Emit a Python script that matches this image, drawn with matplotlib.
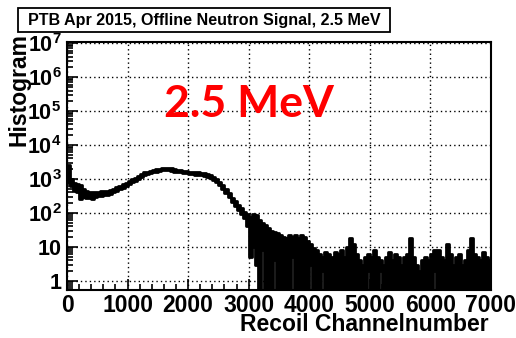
import numpy as np
import matplotlib
matplotlib.use("Agg")
import matplotlib.pyplot as plt
from matplotlib.patches import Rectangle
from matplotlib.ticker import FixedLocator, MultipleLocator, LogLocator, NullFormatter, FixedFormatter

plt.rcParams['font.family'] = ['Liberation Sans']
plt.rcParams['font.weight'] = 'bold'
plt.rcParams['mathtext.fontset'] = 'custom'
plt.rcParams['mathtext.rm'] = 'Liberation Sans:bold'
plt.rcParams['mathtext.it'] = 'Liberation Sans:bold'
plt.rcParams['mathtext.bf'] = 'Liberation Sans:bold'

# Recoil spectrum, 50-channel bins from 0 to 7000.
# Upper and lower envelope of the bin contents within each bin (0.5 = empty bins).
bin_width = 50
counts_hi = [
    2600, 1000, 750, 700, 650, 500, 450, 420, 400, 420,
    420, 430, 440, 450, 470, 520, 580, 640, 700, 780,
    880, 980, 1100, 1250, 1400, 1550, 1650, 1700, 1800, 1900,
    2000, 2100, 2150, 2150, 2050, 1950, 1850, 1800, 1750, 1700,
    1650, 1600, 1580, 1550, 1500, 1450, 1380, 1300, 1150, 1000,
    820, 650, 500, 380, 280, 220, 170, 140, 110, 90,
    75, 90, 85, 60, 50, 45, 35, 30, 28, 25,
    22, 20, 18, 22, 20, 22, 18, 22, 20, 15,
    12, 9, 8, 6, 5, 7, 6, 5, 7, 6,
    8, 5, 10, 18, 12, 6, 4, 3, 5, 6,
    5, 8, 5, 4, 3, 5, 7, 4, 6, 5,
    3, 5, 6, 18, 5, 3, 2, 4, 5, 4,
    6, 8, 8, 5, 4, 12, 6, 3, 5, 6,
    3, 4, 8, 18, 6, 5, 4, 7, 5, 4,
]
counts_lo = [
    800, 600, 450, 420, 250, 300, 280, 270, 260, 300,
    310, 320, 330, 340, 360, 400, 450, 500, 560, 620,
    700, 800, 900, 1000, 1150, 1300, 1400, 1450, 1550, 1600,
    1700, 1800, 1850, 1850, 1750, 1650, 1600, 1550, 1500, 1450,
    1400, 1380, 1350, 1320, 1280, 1230, 1150, 1080, 950, 820,
    650, 520, 390, 290, 210, 160, 120, 95, 70, 40,
    5, 10, 3, 0.5, 8, 0.5, 0.5, 0.5, 4, 0.5,
    0.5, 0.5, 0.5, 0.5, 5, 0.5, 0.5, 0.5, 0.5, 0.5,
    3, 0.5, 0.5, 0.5, 2, 0.5, 0.5, 0.5, 0.5, 0.5,
    0.5, 0.5, 0.5, 0.5, 0.5, 0.5, 0.5, 0.5, 0.5, 2,
    0.5, 0.5, 0.5, 2, 0.5, 0.5, 0.5, 0.5, 0.5, 0.5,
    0.5, 0.5, 0.5, 0.5, 0.5, 0.5, 0.5, 0.5, 0.5, 0.5,
    0.5, 2, 0.5, 0.5, 0.5, 0.5, 0.5, 0.5, 0.5, 0.5,
    0.5, 0.5, 0.5, 0.5, 0.5, 0.5, 0.5, 0.5, 0.5, 0.5,
]
x_ticks = [0, 1000, 2000, 3000, 4000, 5000, 6000, 7000]
y_ticks = [1, 10, 1e2, 1e3, 1e4, 1e5, 1e6, 1e7]
y_tick_labels = ['1', '10', '$10^{2}$', '$10^{3}$', '$10^{4}$', '$10^{5}$', '$10^{6}$', '$10^{7}$']

W, H = 516, 338
fig = plt.figure(figsize=(W / 100, H / 100), dpi=100)
ax = fig.add_axes([67 / W, 1 - 290 / H, (491 - 67) / W, (290 - 42) / H])

edges = np.arange(len(counts_hi) + 1) * bin_width
hi = np.array(counts_hi, dtype=float)
lo = np.array(counts_lo, dtype=float)
hi_s = np.append(hi, hi[-1])
lo_s = np.append(lo, lo[-1])

ax.fill_between(edges, lo_s, hi_s, step='post', color='black', lw=0)
ax.step(edges, hi_s, where='post', color='black', lw=2.0)
ax.step(edges, lo_s, where='post', color='black', lw=2.0)

ax.set_yscale('log')
ax.set_xlim(0, 7000)
ax.set_ylim(0.54, 1.07e7)

ax.xaxis.set_major_locator(FixedLocator(x_ticks))
ax.xaxis.set_minor_locator(MultipleLocator(200))
ax.yaxis.set_major_locator(FixedLocator(y_ticks))
ax.yaxis.set_major_formatter(FixedFormatter(y_tick_labels))
ax.yaxis.set_minor_locator(LogLocator(base=10, subs=np.arange(2, 10), numticks=20))
ax.yaxis.set_minor_formatter(NullFormatter())

ax.tick_params(axis='both', which='both', direction='in', top=False, right=False)
ax.tick_params(axis='x', which='major', length=8, width=1.2, labelsize=16.5, pad=3)
ax.tick_params(axis='x', which='minor', length=4, width=1.2)
ax.tick_params(axis='y', which='major', length=8, width=1.2, labelsize=15.5, pad=4)
ax.tick_params(axis='y', which='minor', length=4, width=1.2)
for lab in ax.get_xticklabels() + ax.get_yticklabels():
    lab.set_fontweight('bold')

ax.grid(True, which='major', color='black', linestyle=(0, (1, 2.2)), lw=1.0)
for sp in ax.spines.values():
    sp.set_linewidth(1.5)

# axis titles, placed at the axis ends
fig.text(489 / W, 1 - 331 / H, 'Recoil Channelnumber', ha='right', va='baseline',
         fontsize=16.5, fontweight='bold')
fig.text(31 / W, 1 - 33 / H, 'Histogram', ha='right', va='top', rotation=90,
         fontsize=16.5, fontweight='bold', zorder=0)

# title box
fig.patches.append(Rectangle((18 / W, 1 - 32 / H), (390 - 18) / W, 24 / H,
                             transform=fig.transFigure, fc='white', ec='black', lw=1.3))
fig.text(204 / W, 1 - 20.5 / H, 'PTB Apr 2015, Offline Neutron Signal, 2.5 MeV',
         ha='center', va='center', fontsize=11.6, fontweight='bold')

# energy annotation
ax.text(3010, 6.6e4, '2.5 MeV', ha='center', va='baseline', color='#ff0000',
        fontsize=32, fontweight='bold', family=['Lato', 'DejaVu Sans'])

fig.savefig('out.png', dpi=100)
